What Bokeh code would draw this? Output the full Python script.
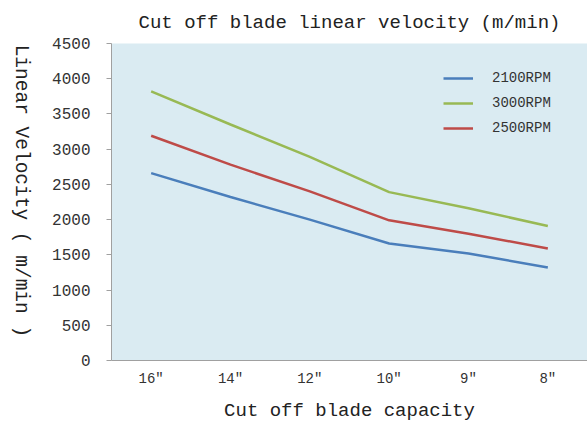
import math
from bokeh.plotting import figure
from bokeh.layouts import row
from bokeh.models import Legend, LegendItem, FixedTicker, Range1d
from bokeh.core.properties import value
from bokeh.embed import file_html
from bokeh.resources import INLINE

categories = ['16"', '14"', '12"', '10"', '9"', '8"']
rpm_2100 = [2660, 2320, 2000, 1660, 1520, 1320]
rpm_3000 = [3820, 3350, 2890, 2390, 2160, 1910]
rpm_2500 = [3190, 2780, 2400, 1990, 1800, 1590]
series_names = ["2100RPM", "3000RPM", "2500RPM"]
y_ticks = [0, 500, 1000, 1500, 2000, 2500, 3000, 3500, 4000, 4500]
y_title = "Linear Velocity ( m/min )"

FONT = "Liberation Mono"
LEFT_W = 40

# narrow side figure carrying the rotated y-axis title
side = figure(width=LEFT_W, height=428, x_range=Range1d(0, 1), y_range=Range1d(0, 1),
              output_backend="svg", toolbar_location=None,
              min_border=0, min_border_left=0, min_border_right=0,
              min_border_top=0, min_border_bottom=0)
side.axis.visible = False
side.grid.visible = False
side.outline_line_color = None
side.background_fill_color = "white"
side.text(x=[0.5], y=[0.535], text=[y_title], angle=-math.pi / 2,
          text_align="center", text_baseline="middle",
          text_font=value(FONT), text_font_size="19.5px", text_color="#222222")

p = figure(width=587 - LEFT_W, height=428, x_range=categories, y_range=Range1d(0, 4500),
           output_backend="svg", toolbar_location=None,
           title="Cut off blade linear velocity (m/min)",
           min_border_left=111 - LEFT_W, min_border_right=0, min_border_top=43, min_border_bottom=68)
p.x_range.range_padding = 0
p.background_fill_color = "#daebf2"
p.border_fill_color = "white"
p.outline_line_color = None
p.grid.visible = False

p.title.text_font = FONT
p.title.text_font_size = "19px"
p.title.text_font_style = "normal"
p.title.text_color = "#222222"
p.title.align = "center"
p.title.offset = 0
p.title.standoff = 19

colors = ["#4a7ebb", "#98b954", "#be4b48"]
renderers = []
for vals, c in zip([rpm_2100, rpm_3000, rpm_2500], colors):
    r = p.line(categories, vals, line_color=c, line_width=2.5)
    renderers.append(r)

legend = Legend(items=[LegendItem(label=n, renderers=[r]) for n, r in zip(series_names, renderers)],
                location=(332, 222), padding=0, margin=0, spacing=5,
                glyph_width=30, glyph_height=20, label_height=20, label_standoff=19,
                background_fill_alpha=0, border_line_color=None,
                label_text_font=FONT, label_text_font_size="14px", label_text_color="#333333")
p.add_layout(legend, "center")

ya = p.yaxis[0]
ya.ticker = FixedTicker(ticks=y_ticks)
ya.axis_line_color = "#a0a0a0"
ya.major_tick_line_color = "#a0a0a0"
ya.major_tick_out = 5
ya.major_tick_in = 0
ya.minor_tick_line_color = None
ya.major_label_text_font = FONT
ya.major_label_text_font_size = "16px"
ya.major_label_text_color = "#333333"
ya.major_label_standoff = 16

xa = p.xaxis[0]
xa.axis_line_color = "#a0a0a0"
xa.major_tick_line_color = None
xa.minor_tick_line_color = None
xa.major_label_text_font = FONT
xa.major_label_text_font_size = "14px"
xa.major_label_text_color = "#333333"
xa.major_label_standoff = 4
xa.axis_label = "Cut off blade capacity"
xa.axis_label_text_font = FONT
xa.axis_label_text_font_size = "19px"
xa.axis_label_text_font_style = "normal"
xa.axis_label_text_color = "#222222"
xa.axis_label_standoff = 10

layout = row(side, p, spacing=0)
open("out.html", "w").write(file_html(layout, INLINE))
